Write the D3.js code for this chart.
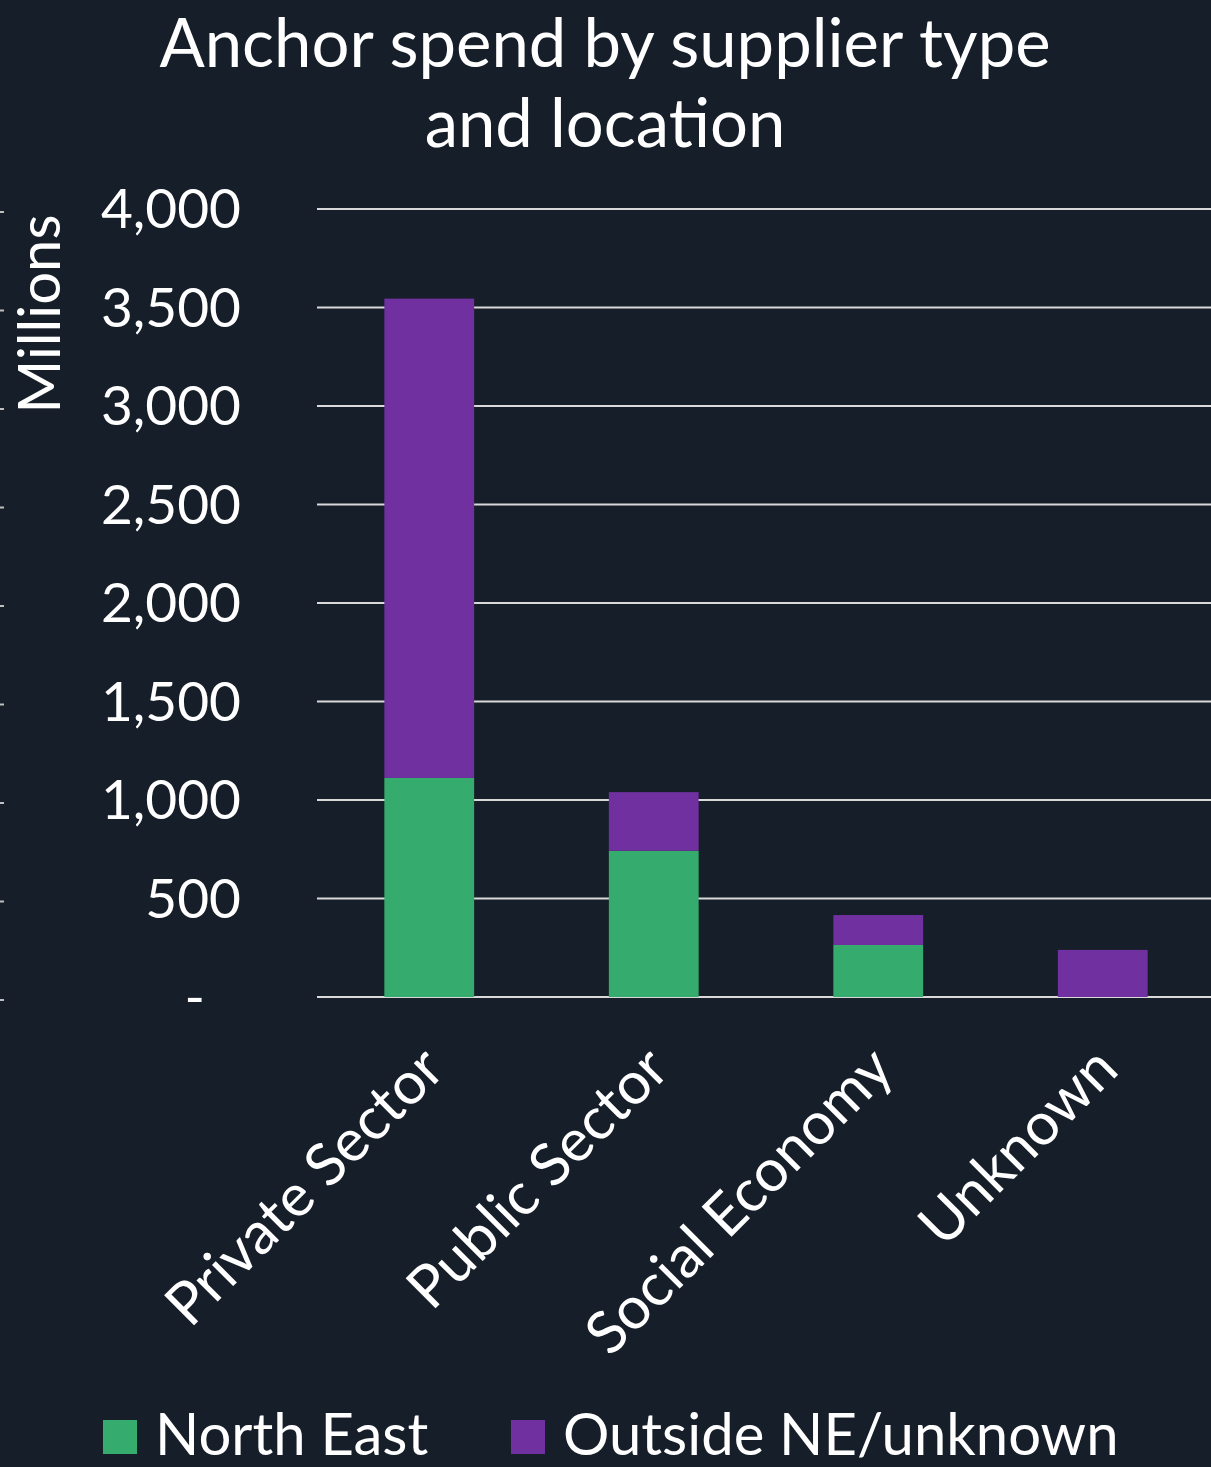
<!DOCTYPE html>
<html><head><meta charset="utf-8">
<script src="https://cdn.jsdelivr.net/npm/d3@7"></script>
<style>html,body{margin:0;padding:0;background:#161e29;}svg{display:block;}</style>
</head><body>
<script>
const categories = ["Private Sector", "Public Sector", "Social Economy", "Unknown"];
const northEast = [1112, 742, 264, 0];
const outsideNE = [2433, 298, 152, 239];
const seriesNames = ["North East", "Outside NE/unknown"];
const tickValues = [0, 500, 1000, 1500, 2000, 2500, 3000, 3500, 4000];
const titleLines = ["Anchor spend by supplier type", "and location"];

const W = 1211, H = 1467;
const colors = ["#35ac6e", "#7030a0"];
const font = "Lato, 'Open Sans', sans-serif";

const svg = d3.select("body").append("svg").attr("width", W).attr("height", H);
svg.append("rect").attr("width", W).attr("height", H).attr("fill", "#161e29");

const x = d3.scaleBand().domain(categories).range([317, 1215]).paddingInner(0.6).paddingOuter(0.3);
const y = d3.scaleLinear().domain([0, 4000]).range([997, 209]);

// gridlines
svg.append("g").selectAll("line").data(tickValues).join("line")
  .attr("x1", 317).attr("x2", W)
  .attr("y1", d => y(d)).attr("y2", d => y(d))
  .attr("stroke", "#d9d9d9").attr("stroke-width", 2);

// small left ticks (cut-off secondary axis)
svg.append("g").selectAll("line").data(tickValues).join("line")
  .attr("x1", 0).attr("x2", 4)
  .attr("y1", d => y(d) + 3).attr("y2", d => y(d) + 3)
  .attr("stroke", "#bfbfbf").attr("stroke-width", 2);

// stacked data
const rows = categories.map((c, i) => ({cat: c, ne: northEast[i], out: outsideNE[i]}));
const stack = d3.stack().keys(["ne", "out"])(rows);
svg.append("g").selectAll("g").data(stack).join("g")
  .attr("fill", (d, i) => colors[i])
  .selectAll("rect").data(d => d).join("rect")
  .attr("x", d => x(d.data.cat))
  .attr("width", x.bandwidth())
  .attr("y", d => y(d[1]))
  .attr("height", d => y(d[0]) - y(d[1]));

// y tick labels
const fmt = d3.format(",");
svg.append("g").selectAll("text").data(tickValues).join("text")
  .attr("x", d => d === 0 ? 205 : 241)
  .attr("y", d => y(d) + 19)
  .attr("text-anchor", "end")
  .attr("fill", "#ffffff")
  .attr("font-family", font).attr("font-size", 55)
  .text(d => d === 0 ? "-" : fmt(d));

// y axis title
svg.append("text")
  .attr("transform", "translate(60,314) rotate(-90)")
  .attr("text-anchor", "middle")
  .attr("fill", "#ffffff").attr("font-family", font).attr("font-size", 58)
  .text("Millions");

// x labels
svg.append("g").selectAll("text").data(categories).join("text")
  .attr("transform", d => `translate(${x(d) + x.bandwidth() / 2 + 18},${1072}) rotate(-45)`)
  .attr("text-anchor", "end")
  .attr("fill", "#ffffff").attr("font-family", font).attr("font-size", 59)
  .text(d => d);

// title
svg.append("g").selectAll("text").data(titleLines).join("text")
  .attr("x", 605).attr("y", (d, i) => 67 + i * 80)
  .attr("text-anchor", "middle")
  .attr("fill", "#ffffff").attr("font-family", font).attr("font-size", 67)
  .text(d => d);

// legend
const legX = [103, 511];
const leg = svg.append("g").selectAll("g").data(seriesNames).join("g")
  .attr("transform", (d, i) => `translate(${legX[i]},1420)`);
leg.append("rect").attr("width", 34).attr("height", 34).attr("fill", (d, i) => colors[i]);
leg.append("text").attr("x", 52).attr("y", 35)
  .attr("fill", "#ffffff").attr("font-family", font).attr("font-size", 58)
  .text(d => d);
</script>
</body></html>
